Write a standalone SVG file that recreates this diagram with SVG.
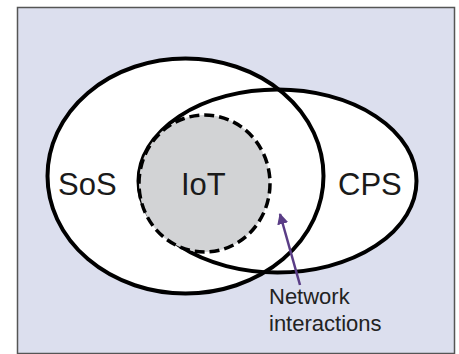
<svg xmlns="http://www.w3.org/2000/svg" width="459" height="354" viewBox="0 0 459 354">
<style>
.fillw{fill:#ffffff;stroke:none}
.ring{fill:none;stroke:#000;stroke-width:4}
.lbl{font-family:"Liberation Sans",Arial,sans-serif;font-size:31px;fill:#1a1a1a}
.note{font-family:"Liberation Sans",Arial,sans-serif;font-size:22px;fill:#222}
</style>
<defs>
<marker id="ah" viewBox="0 0 10 10" refX="9" refY="5" markerWidth="4.5" markerHeight="4.5" orient="auto" markerUnits="strokeWidth">
<path d="M0,0 L10,5 L0,10 Z" fill="#5a3d86"/>
</marker>
</defs>
<rect x="0" y="0" width="459" height="354" fill="#ffffff"/>
<rect x="17.5" y="7.5" width="437" height="346" fill="#dcdfee" stroke="#555" stroke-width="1.5"/>
<g id="fills">
<ellipse class="fillw" cx="185.5" cy="176" rx="138" ry="117.5"/>
<ellipse class="fillw" cx="277.5" cy="181" rx="139" ry="91.5"/>
</g>
<g id="sos"><ellipse class="ring" cx="185.5" cy="176" rx="138" ry="117.5"/></g>
<g id="cps"><ellipse class="ring" cx="277.5" cy="181" rx="139" ry="91.5"/></g>
<g id="iot"><ellipse cx="204.5" cy="183.5" rx="65.5" ry="68.5" fill="#d2d3d5" stroke="#000" stroke-width="3.5" stroke-dasharray="10,5"/></g>
<g id="labels">
<text class="lbl" x="58" y="195">SoS</text>
<text class="lbl" x="181" y="195">IoT</text>
<text class="lbl" x="338" y="195">CPS</text>
<text class="note" x="269" y="304">Network</text>
<text class="note" x="269" y="331">interactions</text>
</g>
<g id="connectors">
<line x1="300" y1="285" x2="280" y2="214" stroke="#5a3d86" stroke-width="2.5" marker-end="url(#ah)"/>
</g>
</svg>
